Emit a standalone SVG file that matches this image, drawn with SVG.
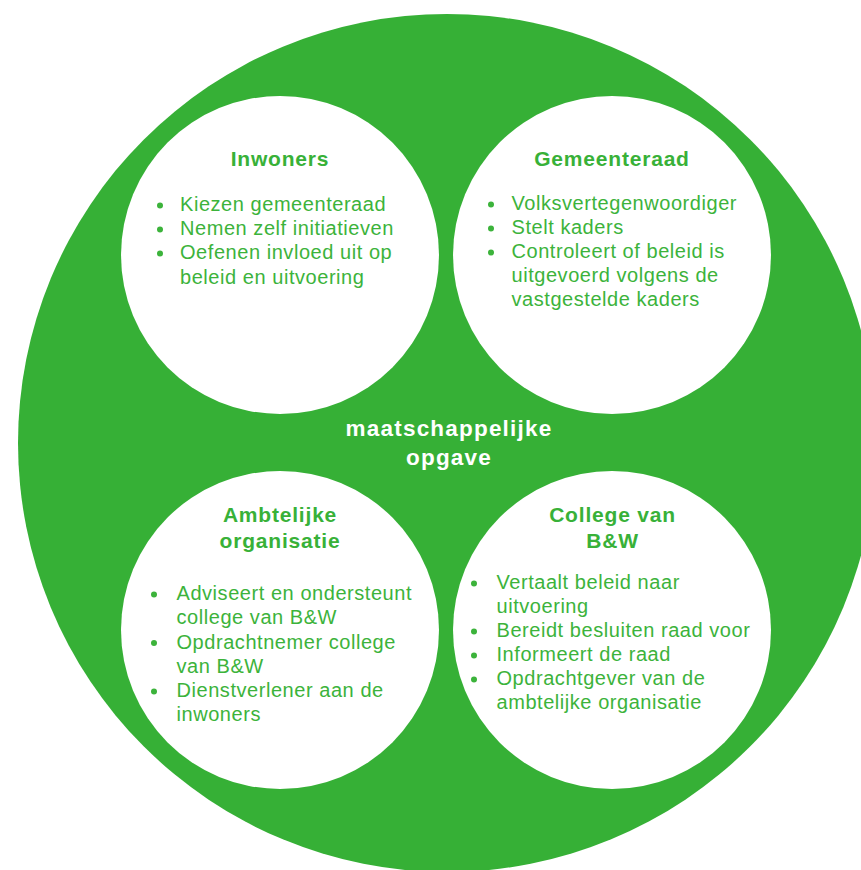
<svg xmlns="http://www.w3.org/2000/svg" width="861" height="870" viewBox="0 0 861 870">
<style>
.bg{fill:#36b036}
.node{fill:#ffffff}
.title{font-family:"Liberation Sans",Arial,sans-serif;font-weight:bold;font-size:21px;letter-spacing:0.8px;fill:#38b138;text-anchor:middle}
.item{font-family:"Liberation Sans",Arial,sans-serif;font-size:20px;letter-spacing:0.55px;fill:#3cb33b}
.dot{fill:#3cb33b}
.center{font-family:"Liberation Sans",Arial,sans-serif;font-weight:bold;font-size:22.5px;letter-spacing:1.2px;fill:#ffffff;text-anchor:middle}
</style>
<rect width="861" height="870" fill="#ffffff"/>
<g id="opgave">
<circle class="bg" cx="447" cy="443" r="429"/>
<text class="center" x="449" y="436">maatschappelijke</text>
<text class="center" x="449" y="465">opgave</text>
</g>
<g id="connectors"></g>
<g id="inwoners">
<circle class="node" cx="280" cy="255" r="159"/>
<text class="title" x="280" y="166">Inwoners</text>
<circle class="dot" cx="160" cy="205.5" r="3"/>
<circle class="dot" cx="160" cy="229.5" r="3"/>
<circle class="dot" cx="160" cy="253.5" r="3"/>
<text class="item" x="180" y="211">Kiezen gemeenteraad</text>
<text class="item" x="180" y="235">Nemen zelf initiatieven</text>
<text class="item" x="180" y="259">Oefenen invloed uit op</text>
<text class="item" x="180" y="283.5">beleid en uitvoering</text>
</g>
<g id="gemeenteraad">
<circle class="node" cx="612" cy="255" r="159"/>
<text class="title" x="612" y="166">Gemeenteraad</text>
<circle class="dot" cx="491" cy="204.5" r="3"/>
<circle class="dot" cx="491" cy="228.5" r="3"/>
<circle class="dot" cx="491" cy="252.5" r="3"/>
<text class="item" x="511.5" y="210">Volksvertegenwoordiger</text>
<text class="item" x="511.5" y="234">Stelt kaders</text>
<text class="item" x="511.5" y="258">Controleert of beleid is</text>
<text class="item" x="511.5" y="282">uitgevoerd volgens de</text>
<text class="item" x="511.5" y="306">vastgestelde kaders</text>
</g>
<g id="ambtelijke-organisatie">
<circle class="node" cx="280" cy="630" r="159"/>
<text class="title" x="280" y="522">Ambtelijke</text>
<text class="title" x="280" y="548">organisatie</text>
<circle class="dot" cx="154" cy="594.5" r="3"/>
<circle class="dot" cx="154" cy="643" r="3"/>
<circle class="dot" cx="154" cy="691.5" r="3"/>
<text class="item" x="176.5" y="600">Adviseert en ondersteunt</text>
<text class="item" x="176.5" y="624.3">college van B&amp;W</text>
<text class="item" x="176.5" y="648.5">Opdrachtnemer college</text>
<text class="item" x="176.5" y="672.7">van B&amp;W</text>
<text class="item" x="176.5" y="697">Dienstverlener aan de</text>
<text class="item" x="176.5" y="721">inwoners</text>
</g>
<g id="college-van-bw">
<circle class="node" cx="612" cy="630" r="159"/>
<text class="title" x="612.5" y="522">College van</text>
<text class="title" x="612.5" y="548">B&amp;W</text>
<circle class="dot" cx="474" cy="583.5" r="3"/>
<circle class="dot" cx="474" cy="631.5" r="3"/>
<circle class="dot" cx="474" cy="655.5" r="3"/>
<circle class="dot" cx="474" cy="679.5" r="3"/>
<text class="item" x="496.5" y="589">Vertaalt beleid naar</text>
<text class="item" x="496.5" y="613">uitvoering</text>
<text class="item" x="496.5" y="637">Bereidt besluiten raad voor</text>
<text class="item" x="496.5" y="661">Informeert de raad</text>
<text class="item" x="496.5" y="685">Opdrachtgever van de</text>
<text class="item" x="496.5" y="709">ambtelijke organisatie</text>
</g>
</svg>
